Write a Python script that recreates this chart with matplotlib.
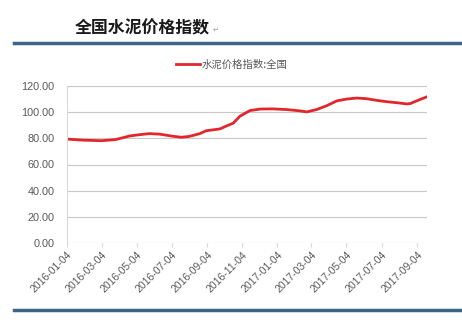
import matplotlib
matplotlib.use('Agg')
import matplotlib.pyplot as plt
import matplotlib.dates as mdates
from matplotlib.lines import Line2D
import pandas as pd

plt.rcParams['font.family'] = ['Noto Sans CJK SC', 'DejaVu Sans']

title = '全国水泥价格指数'
series_name = '水泥价格指数:全国'

# values
dates = ['2016-01-04', '2016-02-01', '2016-03-04', '2016-03-28', '2016-04-22',
         '2016-05-09', '2016-05-26', '2016-06-13', '2016-07-06', '2016-07-21',
         '2016-08-04', '2016-08-22', '2016-09-02', '2016-09-26', '2016-10-07',
         '2016-10-19', '2016-10-31', '2016-11-17', '2016-12-05', '2016-12-27',
         '2017-01-20', '2017-02-12', '2017-02-24', '2017-03-13', '2017-03-31',
         '2017-04-17', '2017-05-04', '2017-05-22', '2017-06-08', '2017-06-26',
         '2017-07-13', '2017-07-31', '2017-08-17', '2017-08-23', '2017-09-04',
         '2017-09-21']
values = [79.4, 78.6, 78.2, 79.0, 81.8,
          82.8, 83.6, 83.2, 81.6, 80.8,
          81.5, 83.6, 85.8, 87.2, 89.4,
          91.6, 97.0, 101.2, 102.4, 102.5,
          102.0, 101.0, 100.2, 102.0, 105.0,
          108.6, 110.0, 110.8, 110.3, 109.0,
          108.0, 107.2, 106.3, 106.6, 108.8,
          111.8]
yticks = [0, 20, 40, 60, 80, 100, 120]
xtick_dates = ['2016-01-04', '2016-03-04', '2016-05-04', '2016-07-04', '2016-09-04',
               '2016-11-04', '2017-01-04', '2017-03-04', '2017-05-04', '2017-07-04',
               '2017-09-04']

x = pd.to_datetime(dates)
xt = pd.to_datetime(xtick_dates)

fig = plt.figure(figsize=(4.62, 3.26), dpi=100)
ax = fig.add_axes([67/462, 1-243/326, (427-67)/462, (243-86)/326])

ax.plot(x, values, color='#e3262c', lw=2.0, solid_capstyle='round')

ax.set_ylim(0, 120)
ax.set_xlim(x[0], x[-1])
ax.set_yticks(yticks)
ax.set_yticklabels(['%.2f' % v for v in yticks], family='Liberation Sans')
ax.set_xticks(xt)
ax.set_xticklabels(xtick_dates, rotation=45, ha='right', rotation_mode='anchor',
                   family='Liberation Sans')
ax.yaxis.grid(True, color='#c8c8c8', lw=0.8)
ax.set_axisbelow(True)
for s in ['top', 'right', 'bottom']:
    ax.spines[s].set_visible(False)
ax.spines['left'].set_color('#d9d9d9')
ax.spines['left'].set_linewidth(0.8)
ax.tick_params(axis='y', length=0, pad=9, labelsize=7.8, labelcolor='#595959')
ax.tick_params(axis='x', length=3, color='#d9d9d9', pad=2, labelsize=7.5, labelcolor='#595959')

h = Line2D([], [], color='#e3262c', lw=2.0)
fig.legend([h], [series_name], loc='center', bbox_to_anchor=(232/462, 1-65/326),
           frameon=False, fontsize=7.5, labelcolor='#595959', handlelength=2.3,
           handletextpad=0.2)

fig.text(75/462, 1-28/326, title, fontsize=12.2, fontweight='bold', va='center', color='#1a1a1a')
fig.text(213/462, 1-30/326, '\u21b5', fontsize=5, va='center', color='#999999', family='DejaVu Sans')

fig.add_artist(Line2D([14/462, 1], [1-43/326, 1-43/326], color='#3c6588', lw=2.5))
fig.add_artist(Line2D([14/462, 1], [1-310/326, 1-310/326], color='#3c6588', lw=2.5))

fig.savefig('out.png', dpi=100)
